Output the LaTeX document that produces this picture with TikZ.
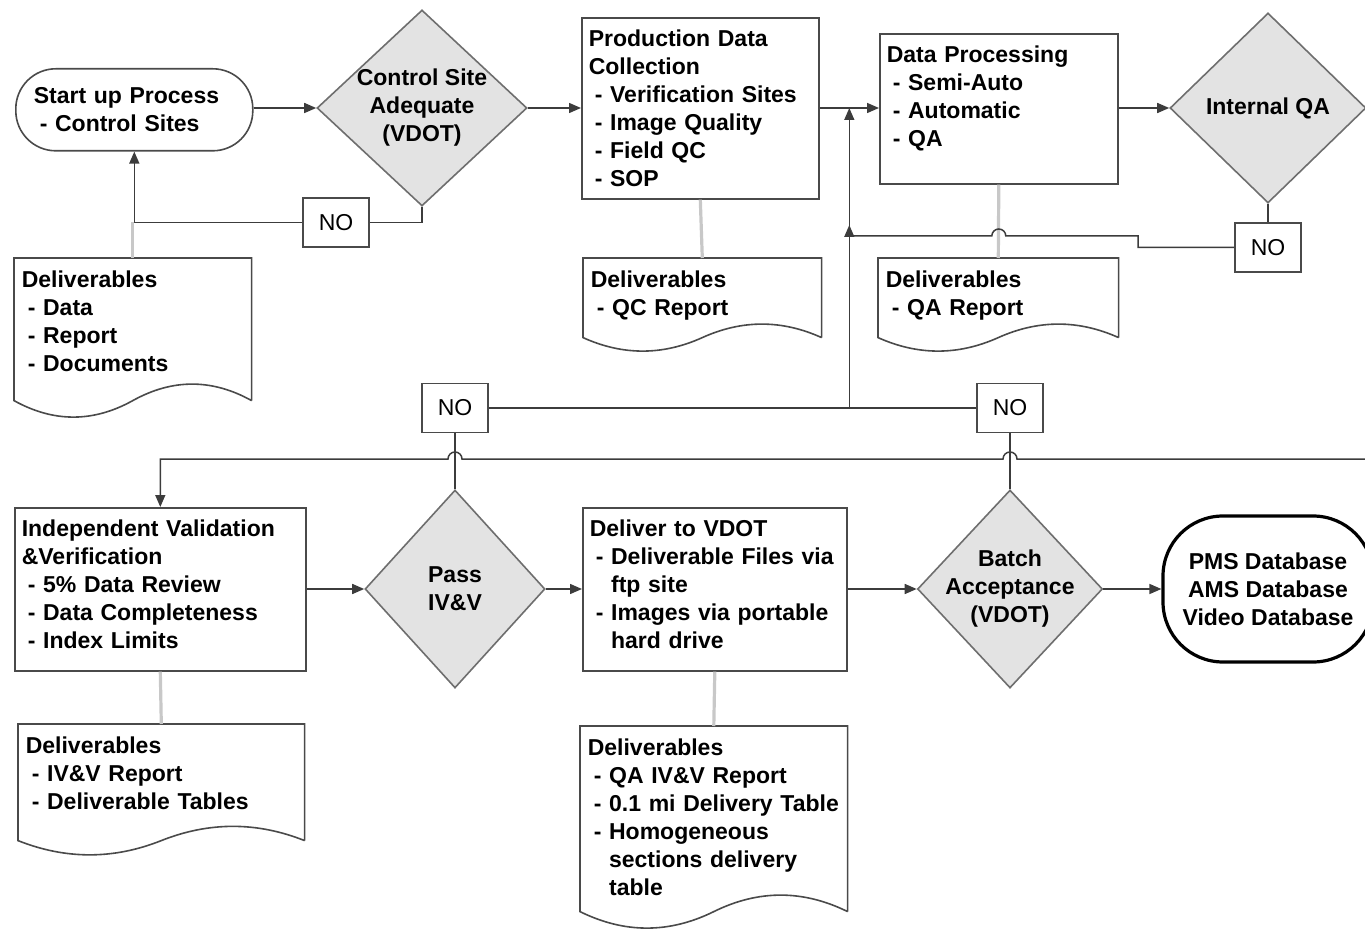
\documentclass[tikz,border=0pt]{standalone}
\usepackage{fontspec}
\setmainfont{Liberation Sans}
\usetikzlibrary{calc,arrows.meta,shapes.geometric}

\definecolor{linecol}{HTML}{3C3C3C}
\definecolor{boxcol}{HTML}{4A4A4A}
\definecolor{dmdline}{HTML}{6E6E6E}
\definecolor{dmdfill}{HTML}{E3E3E3}
\definecolor{delivgray}{HTML}{C8C8C8}

% list lines inside the boxes
\newcommand{\itm}[1]{\mbox{\hspace*{3pt}- #1}}
\newcommand{\contline}[1]{\mbox{\hspace*{3pt}\phantom{-} #1}}

% document outline with a wavy bottom edge
\newcommand{\docwave}[2]{%
  \draw[draw=boxcol, line width=0.8pt]
    (#1.south east) -- (#1.north east) -- (#1.north west) -- (#1.south west)
    .. controls ($(#1.south west)!0.1667!(#1.south east)+(0,#2)$)
            and ($(#1.south west)!0.3333!(#1.south east)+(0,#2)$) .. ($(#1.south west)!0.5!(#1.south east)$)
    .. controls ($(#1.south west)!0.6667!(#1.south east)-(0,#2)$)
            and ($(#1.south west)!0.8333!(#1.south east)-(0,#2)$) .. (#1.south east);}

\tikzset{
  every node/.style={font=\fontsize{11.5}{14}\selectfont\bfseries},
  procbox/.style={draw=boxcol, line width=0.8pt, rectangle, anchor=north west, align=left,
    inner xsep=3.5pt, inner ysep=5.5pt, text height=9pt},
  docbox/.style={procbox, draw=none},
  decision/.style={diamond, draw=dmdline, fill=dmdfill, line width=0.8pt, align=center, inner sep=-3pt},
  nobox/.style={draw=boxcol, line width=0.8pt, rectangle, minimum width=33pt, minimum height=24.5pt,
    inner sep=0pt, font=\fontsize{11.5}{14}\selectfont},
  terminal/.style={draw=boxcol, line width=0.8pt, rectangle, rounded corners=20pt, align=left},
  conn/.style={draw=linecol, line width=0.75pt},
  flow/.style={conn, -{Triangle[length=6pt,width=5pt]}},
  delivlink/.style={draw=delivgray, line width=1.6pt},
}

\begin{document}
\begin{tikzpicture}[x=0.5pt,y=-0.5pt]
  \useasboundingbox (0,0) rectangle (1365,930);

  % upper row
  \node[terminal, anchor=north west, text width=100.5pt, inner xsep=9pt, minimum height=41pt]
    (start) at (15,68) {Start up Process\\\itm{Control Sites}};
  \node[decision, minimum width=105pt, minimum height=98pt] (csa) at (422,108)
    {Control Site\\Adequate\\(VDOT)};
  \node[procbox, text width=111.5pt, text depth=70.5pt] (pdc) at (581,17)
    {Production Data\\Collection\\\itm{Verification Sites}\\\itm{Image Quality}\\\itm{Field QC}\\\itm{SOP}};
  \node[procbox, text width=112pt, text depth=55pt] (dp) at (879,33)
    {Data Processing\\\itm{Semi-Auto}\\\itm{Automatic}\\\itm{QA}};
  \node[decision, minimum width=98pt, minimum height=95pt] (iqa) at (1268,108) {Internal QA};

  \node[docbox, text width=111pt, text depth=50.5pt] (d0) at (14,258)
    {Deliverables\\\itm{Data}\\\itm{Report}\\\itm{Documents}};
  \node[docbox, text width=111.5pt, text depth=19pt] (d1) at (583,258)
    {Deliverables\\\itm{QC Report}};
  \node[docbox, text width=112.5pt, text depth=19pt] (d2) at (878,258)
    {Deliverables\\\itm{QA Report}};
  \docwave{d0}{22}
  \docwave{d1}{18}
  \docwave{d2}{18}

  \node[nobox] (no1) at (336,222.5) {NO};
  \node[nobox] (no2) at (455,408) {NO};
  \node[nobox] (no3) at (1010,408) {NO};
  \node[nobox] (no4) at (1268,247.5) {NO};

  % lower row
  \node[procbox, text width=138.5pt, text depth=61.5pt] (ivv) at (14,507)
    {Independent Validation\\\&Verification\\\itm{5\% Data Review}\\\itm{Data Completeness}\\\itm{Index Limits}};
  \node[decision, minimum width=90pt, minimum height=99pt] (pass) at (455,589) {Pass\\IV\&V};
  \node[procbox, text width=125pt, text depth=61.5pt] (dlv) at (582,507)
    {Deliver to VDOT\\\itm{Deliverable Files via}\\\contline{ftp site}\\\itm{Images via portable}\\\contline{hard drive}};
  \node[decision, minimum width=92.5pt, minimum height=99pt] (batch) at (1010,589)
    {Batch\\Acceptance\\(VDOT)};
  \node[terminal, draw=black, line width=1.6pt, rounded corners=30pt, align=center,
    minimum width=105pt, minimum height=73pt] (pms) at (1268,589)
    {PMS Database\\AMS Database\\Video Database};

  \node[docbox, text width=135.5pt, text depth=37.5pt] (d3) at (18,724)
    {Deliverables\\\itm{IV\&V Report}\\\itm{Deliverable Tables}};
  \node[docbox, text width=126pt, text depth=72pt] (d4) at (580,726)
    {Deliverables\\\itm{QA IV\&V Report}\\\itm{0.1 mi Delivery Table}\\\itm{Homogeneous}\\\contline{sections delivery}\\\contline{table}};
  \docwave{d3}{19}
  \docwave{d4}{22}

  \coordinate (mid) at ($(pdc.east)!0.5!(dp.west)$);
  \coordinate (step) at (1138,236);
  \coordinate (ret) at (1365,459);

  % deliverable links
  \draw[delivlink] (d0.north) -- (d0.north |- no1.west);
  \draw[delivlink] (pdc.south) -- (d1.north);
  \draw[delivlink] (dp.south) -- (d2.north);
  \draw[delivlink] (ivv.south) -- (d3.north);
  \draw[delivlink] (dlv.south) -- (d4.north);

  % main flow
  \draw[flow] (csa.west -| start.east) -- (csa.west);
  \draw[flow] (csa.east) -- (csa.east -| pdc.west);
  \draw[flow] (mid |- csa.east) -- (csa.east -| dp.west);
  \draw[conn] (csa.east -| pdc.east) -- (mid |- csa.east);
  \draw[flow] (iqa.west -| dp.east) -- (iqa.west);
  \draw[flow] (pass.west -| ivv.east) -- (pass.west);
  \draw[flow] (pass.east) -- (pass.east -| dlv.west);
  \draw[flow] (batch.west -| dlv.east) -- (batch.west);
  \draw[flow] (batch.east) -- (batch.east -| pms.west);

  % rework loops
  \draw[conn] (csa.south) |- (no1.east);
  \draw[flow] (no1.west) -| (start.south);
  \draw[conn] (iqa.south) -- (no4.north);
  \draw[conn] (no4.west) -| (step) -- ($(dp.south |- step)+(7,0)$) arc (0:-180:7) -- (mid |- step);
  \draw[flow] (mid |- step) -- ++(0,-11);
  \draw[conn] (no2.east) -- (no3.west);
  \draw[flow] (mid |- no2.east) -- (mid |- csa.east);
  \draw[conn] (no2.south) -- (pass.north);
  \draw[conn] (no3.south) -- (batch.north);
  \draw[flow] (ret) -- ($(no3.south |- ret)+(7,0)$) arc (0:-180:7)
    -- ($(no2.south |- ret)+(7,0)$) arc (0:-180:7) -- (ivv.north |- ret) -- (ivv.north);
\end{tikzpicture}
\end{document}
